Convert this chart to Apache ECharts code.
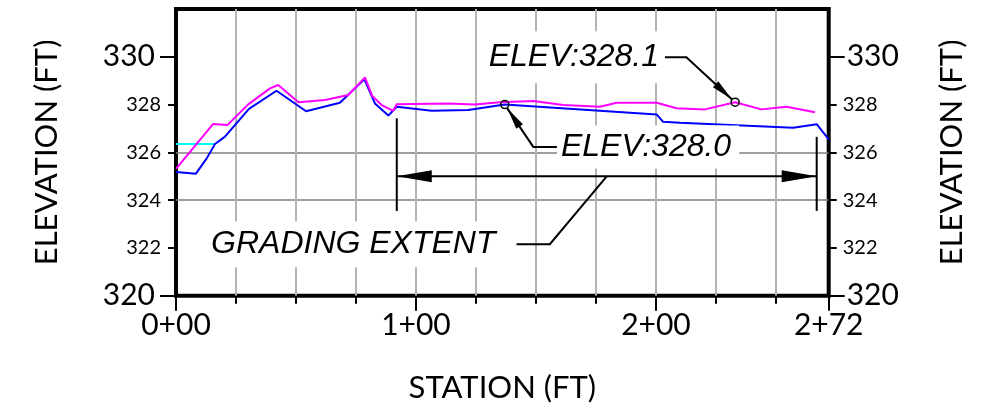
<!DOCTYPE html>
<html>
<head>
<meta charset="utf-8">
<script src="https://cdn.jsdelivr.net/npm/echarts@6/dist/echarts.min.js"></script>
<style>
  html, body { margin: 0; padding: 0; background: #fff; }
  #chart { width: 981px; height: 413px; }
</style>
</head>
<body>
<div id="chart"></div>
<script>
// Profile data: [station (ft), elevation (ft)]
const proposedGrade = [
  [0, 325.31], [15.5, 327.19], [21.5, 327.15], [30.1, 328.01], [39.2, 328.68],
  [42.6, 328.82], [51.0, 328.10], [62.1, 328.19], [71.8, 328.40], [78.75, 329.14],
  [81.8, 328.36], [85.7, 327.98], [90.5, 327.74], [92.0, 328.01], [113.5, 328.05],
  [124.6, 328.00], [135.0, 328.10], [148.9, 328.15], [161.4, 327.98], [176.7, 327.91],
  [183.6, 328.08], [200.3, 328.08], [208.6, 327.85], [220.4, 327.80], [233.0, 328.10],
  [244.0, 327.80], [254.4, 327.91], [266.3, 327.68]
];
const existingGrade = [
  [0, 325.18], [8.3, 325.11], [12.8, 325.75], [16.25, 326.35], [20.4, 326.66],
  [30.4, 327.82], [41.9, 328.58], [54.2, 327.72], [68.3, 328.08], [78.5, 329.06],
  [82.9, 328.05], [88.5, 327.54], [92.0, 327.91], [106.5, 327.74], [121.8, 327.77],
  [137.0, 328.00], [200.3, 327.59], [203.0, 327.28], [210.0, 327.24], [257.2, 327.03],
  [267.0, 327.18], [272.0, 326.55]
];
const waterLevel = [[0, 326.35], [16.25, 326.35]];

// Axis ticks and labels
const stationTicks = [0, 100, 200, 272];
const stationLabels = ['0+00', '1+00', '2+00', '2+72'];
const elevMajor = [320, 330];
const elevMinor = [322, 324, 326, 328];

// Grading extent dimension
const extentStations = [92, 267];
const extentBarTops = [327.43, 326.65];
const extentBarBottom = 323.55;
const extentArrowElev = 325.0;
const extentLeader = [[179.5, 325.0], [155.8, 322.16], [141.9, 322.16]];
const extentText = 'GRADING EXTENT';

// Spot elevation callouts
const calloutLowPoint = [137.0, 328.0];
const calloutLowLeader = [[158.75, 326.23], [148.9, 326.23]];
const calloutLowText = 'ELEV:328.0';
const calloutHighPoint = [233.0, 328.1];
const calloutHighLeader = [[203.75, 329.98], [212.7, 329.98]];
const calloutHighText = 'ELEV:328.1';

const INK = '#000';
const NOTE_FONT = 'italic 32px "Liberation Sans", Arial, sans-serif';

function arrowHead(tip, from, len, half) {
  const dx = tip[0] - from[0], dy = tip[1] - from[1];
  const d = Math.hypot(dx, dy), ux = dx / d, uy = dy / d;
  const bx = tip[0] - ux * len, by = tip[1] - uy * len;
  return {
    type: 'polygon',
    shape: { points: [tip, [bx - uy * half, by + ux * half], [bx + uy * half, by - ux * half]] },
    style: { fill: INK }
  };
}

function seg(a, b) {
  return { type: 'line', shape: { x1: a[0], y1: a[1], x2: b[0], y2: b[1] },
           style: { stroke: INK, lineWidth: 2 } };
}

function poly(pts) {
  return { type: 'polyline', shape: { points: pts }, style: { stroke: INK, lineWidth: 2, fill: null } };
}

// Leader ending in an arrow at a small circle marking a point
function callout(point, leader, children) {
  const c = [point[0], point[1]];
  const last = leader[leader.length - 1];
  const dx = c[0] - last[0], dy = c[1] - last[1];
  const d = Math.hypot(dx, dy);
  const tip = [c[0] - dx / d * 4.5, c[1] - dy / d * 4.5];
  children.push(poly(leader.concat([tip])));
  children.push(arrowHead(tip, last, 22, 4));
  children.push({ type: 'circle', shape: { cx: c[0], cy: c[1], r: 4 },
                  style: { stroke: INK, lineWidth: 1.5, fill: null } });
}

function renderNotes(params, api) {
  const P = v => api.coord(v);
  const children = [];

  // Grading extent: limit bars, dimension line and arrowheads
  const left = P([extentStations[0], extentArrowElev]);
  const right = P([extentStations[1], extentArrowElev]);
  extentStations.forEach((s, i) => {
    children.push(seg(P([s, extentBarTops[i]]), P([s, extentBarBottom])));
  });
  children.push(seg(left, right));
  children.push(arrowHead(left, right, 35, 6));
  children.push(arrowHead(right, left, 35, 6));

  const lead = extentLeader.map(P);
  children.push(poly(lead));
  const lEnd = lead[lead.length - 1];
  children.push({
    type: 'text', z2: 5,
    style: { text: extentText, x: lEnd[0] - 12, y: lEnd[1], align: 'right', verticalAlign: 'middle',
             font: NOTE_FONT, fill: INK, backgroundColor: '#fff', padding: [7, 9, 7, 7] }
  });

  // Spot elevation callouts
  const lowLead = calloutLowLeader.map(P);
  callout(P(calloutLowPoint), lowLead, children);
  children.push({
    type: 'text', z2: 5,
    style: { text: calloutLowText, x: lowLead[0][0], y: lowLead[0][1], align: 'left', verticalAlign: 'middle',
             font: NOTE_FONT, fill: INK, backgroundColor: '#fff', padding: [6, 8, 5, 4] }
  });

  const highLead = calloutHighLeader.map(P);
  callout(P(calloutHighPoint), highLead, children);
  children.push({
    type: 'text', z2: 5,
    style: { text: calloutHighText, x: highLead[0][0], y: highLead[0][1], align: 'right', verticalAlign: 'middle',
             font: NOTE_FONT, fill: INK, backgroundColor: '#fff', padding: [10, 6, 10, 7] }
  });

  return { type: 'group', children };
}

const elevBase = { type: 'value', min: 320, max: 332, interval: 2, axisLine: { show: false } };
const nameStyle = { fontFamily: 'Lato', fontSize: 31, color: INK };

const option = {
  animation: false,
  backgroundColor: '#fff',
  grid: { left: 176, top: 9, right: 152.3, bottom: 117.2, show: true,
          borderColor: INK, borderWidth: 4, backgroundColor: 'transparent' },
  xAxis: [
    { type: 'value', min: 0, max: 272, interval: 25, position: 'bottom',
      axisLine: { show: false },
      axisTick: { length: 8, lineStyle: { color: INK, width: 2 } },
      axisLabel: { show: false },
      splitLine: { show: true, showMinLine: false, showMaxLine: false,
                   lineStyle: { color: '#b3b3b3', width: 2 } } },
    { type: 'value', min: 0, max: 272, interval: 100, position: 'bottom',
      axisLine: { show: false },
      axisTick: { customValues: stationTicks, length: 15, lineStyle: { color: INK, width: 2 } },
      axisLabel: { customValues: stationTicks, margin: 15, fontFamily: 'Lato', fontSize: 30, color: INK,
                   formatter: v => stationLabels[stationTicks.indexOf(v)] },
      splitLine: { show: false },
      name: 'STATION (FT)', nameLocation: 'middle', nameGap: 77, nameTextStyle: nameStyle }
  ],
  yAxis: [
    { ...elevBase, position: 'left',
      splitLine: { show: true, showMinLine: false, showMaxLine: false,
                   lineStyle: { color: '#7f7f7f', width: 1.5 } },
      axisTick: { customValues: elevMinor, length: 8, lineStyle: { color: INK, width: 2 } },
      axisLabel: { customValues: elevMinor, margin: 15, fontFamily: 'Lato', fontSize: 20, color: INK },
      name: 'ELEVATION (FT)', nameLocation: 'middle', nameRotate: 90, nameGap: 114, nameTextStyle: nameStyle },
    { ...elevBase, position: 'left', splitLine: { show: false },
      axisTick: { customValues: elevMajor, length: 16, lineStyle: { color: INK, width: 2 } },
      axisLabel: { customValues: elevMajor, margin: 21, fontFamily: 'Lato', fontSize: 30, color: INK } },
    { ...elevBase, position: 'right', splitLine: { show: false },
      axisTick: { customValues: elevMinor, length: 8, lineStyle: { color: INK, width: 2 } },
      axisLabel: { customValues: elevMinor, margin: 14, fontFamily: 'Lato', fontSize: 20, color: INK },
      name: 'ELEVATION (FT)', nameLocation: 'middle', nameRotate: 90, nameGap: 108, nameTextStyle: nameStyle },
    { ...elevBase, position: 'right', splitLine: { show: false },
      axisTick: { customValues: elevMajor, length: 16, lineStyle: { color: INK, width: 2 } },
      axisLabel: { customValues: elevMajor, margin: 18, fontFamily: 'Lato', fontSize: 30, color: INK } }
  ],
  series: [
    { type: 'line', data: waterLevel, showSymbol: false, lineStyle: { color: '#00ffff', width: 2 }, z: 3 },
    { type: 'line', data: existingGrade, showSymbol: false, lineStyle: { color: '#0000ff', width: 2 }, z: 4 },
    { type: 'line', data: proposedGrade, showSymbol: false, lineStyle: { color: '#ff00ff', width: 2 }, z: 5 },
    { type: 'custom', data: [[0, 0]], renderItem: renderNotes, z: 6, silent: true }
  ]
};

const chart = echarts.init(document.getElementById('chart'), null, { renderer: 'canvas' });
chart.setOption(option);
</script>
</body>
</html>
